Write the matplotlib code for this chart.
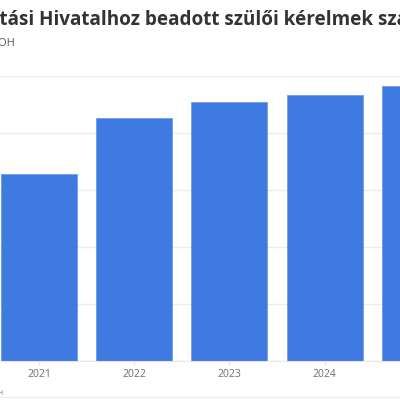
import matplotlib
matplotlib.use("Agg")
from matplotlib import pyplot as plt
from matplotlib.lines import Line2D

years = ["2021", "2022", "2023", "2024", "2025"]
requests = [6560, 8520, 9080, 9320, 9640]
y_ticks = [0, 2000, 4000, 6000, 8000, 10000]

title = "Az Oktatási Hivatalhoz beadott szülői kérelmek száma"
subtitle = "Forrás: OH"
footer = "Forrás: OH"

bar_color = "#3e7ae2"
plt.rcParams["font.family"] = ["Open Sans", "DejaVu Sans"]

fig = plt.figure(figsize=(4, 4), dpi=100)
# the chart is a crop of a wider one: the axes run past both figure edges
ax = fig.add_axes([0.0, 1 - 361 / 400, 1.0, (361 - 75.7) / 400])

x = list(range(len(years)))
ax.bar(x, requests, width=0.8, color=bar_color, edgecolor="#6f9be8",
       linewidth=0.6, zorder=2)

ax.set_yticks(y_ticks)
ax.set_yticklabels([])
ax.set_xticks(x)
ax.set_xticklabels(years, fontsize=7.5, color="#6e6e6e")
# limits after the ticks, or set_xticks widens them again
ax.set_xlim(-39 / 95.2, (400 - 39) / 95.2)
ax.set_ylim(y_ticks[0], y_ticks[-1])
ax.tick_params(axis="x", length=3, color="#e6e6e6", pad=3)
ax.tick_params(axis="y", length=0)
ax.grid(axis="y", color="#ececec", linewidth=1, zorder=0)
for side in ["top", "right", "left"]:
    ax.spines[side].set_visible(False)
ax.spines["bottom"].set_color("#e6e6e6")

# title shifted so that only its middle part is inside the picture
title_props = dict(fontsize=13.6, fontweight="bold", color="#333333")
fig.canvas.draw()
r = fig.canvas.get_renderer()
tmp = fig.text(0, 0, "Az Okta", **title_props)
w = tmp.get_window_extent(r).width
tmp.remove()
fig.text((-w - 1) / 400, 1 - 25 / 400, title, ha="left", va="baseline",
         **title_props)

fig.text(15 / 400, 1 - 46 / 400, subtitle, ha="right", va="baseline",
         fontsize=8, color="#555555")

fig.text(3 / 400, 1 - 395 / 400, footer, ha="right", va="baseline",
         fontsize=5, color="#777777")
fig.add_artist(Line2D([0, 1], [1 - 397 / 400] * 2, color="#eeeeee",
                      linewidth=1, transform=fig.transFigure))

fig.savefig("out.png", dpi=100)
